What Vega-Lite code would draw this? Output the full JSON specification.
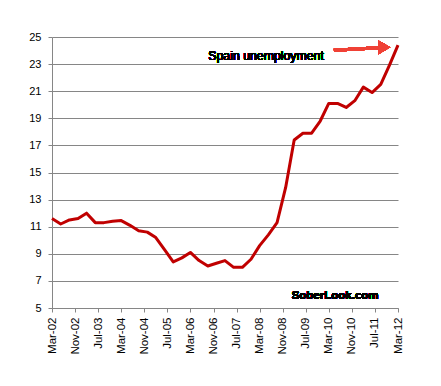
{
  "$schema": "https://vega.github.io/schema/vega-lite/v6.json",
  "autosize": "none",
  "width": 346,
  "height": 271,
  "padding": {"left": 52, "top": 37, "right": 43, "bottom": 78},
  "background": "white",
  "config": {
    "view": {"stroke": null},
    "font": "Liberation Sans"
  },
  "data": {
    "values": [
      {"date": "2002-03-01T00:00:00", "rate": 11.6},
      {"date": "2002-06-01T00:00:00", "rate": 11.2},
      {"date": "2002-09-01T00:00:00", "rate": 11.5},
      {"date": "2002-12-01T00:00:00", "rate": 11.6},
      {"date": "2003-03-01T00:00:00", "rate": 12.0},
      {"date": "2003-06-01T00:00:00", "rate": 11.3},
      {"date": "2003-09-01T00:00:00", "rate": 11.3},
      {"date": "2003-12-01T00:00:00", "rate": 11.4},
      {"date": "2004-03-01T00:00:00", "rate": 11.45},
      {"date": "2004-06-01T00:00:00", "rate": 11.1},
      {"date": "2004-09-01T00:00:00", "rate": 10.7},
      {"date": "2004-12-01T00:00:00", "rate": 10.6},
      {"date": "2005-03-01T00:00:00", "rate": 10.2},
      {"date": "2005-06-01T00:00:00", "rate": 9.3},
      {"date": "2005-09-01T00:00:00", "rate": 8.4},
      {"date": "2005-12-01T00:00:00", "rate": 8.7},
      {"date": "2006-03-01T00:00:00", "rate": 9.1},
      {"date": "2006-06-01T00:00:00", "rate": 8.5},
      {"date": "2006-09-01T00:00:00", "rate": 8.1},
      {"date": "2006-12-01T00:00:00", "rate": 8.3},
      {"date": "2007-03-01T00:00:00", "rate": 8.5},
      {"date": "2007-06-01T00:00:00", "rate": 8.0},
      {"date": "2007-09-01T00:00:00", "rate": 8.0},
      {"date": "2007-12-01T00:00:00", "rate": 8.6},
      {"date": "2008-03-01T00:00:00", "rate": 9.6},
      {"date": "2008-06-01T00:00:00", "rate": 10.4},
      {"date": "2008-09-01T00:00:00", "rate": 11.3},
      {"date": "2008-12-01T00:00:00", "rate": 13.9},
      {"date": "2009-03-01T00:00:00", "rate": 17.4},
      {"date": "2009-06-01T00:00:00", "rate": 17.9},
      {"date": "2009-09-01T00:00:00", "rate": 17.9},
      {"date": "2009-12-01T00:00:00", "rate": 18.8},
      {"date": "2010-03-01T00:00:00", "rate": 20.1},
      {"date": "2010-06-01T00:00:00", "rate": 20.1},
      {"date": "2010-09-01T00:00:00", "rate": 19.8},
      {"date": "2010-12-01T00:00:00", "rate": 20.3},
      {"date": "2011-03-01T00:00:00", "rate": 21.3},
      {"date": "2011-06-01T00:00:00", "rate": 20.9},
      {"date": "2011-09-01T00:00:00", "rate": 21.5},
      {"date": "2011-12-01T00:00:00", "rate": 22.9},
      {"date": "2012-03-01T00:00:00", "rate": 24.4}
    ]
  },
  "layer": [
    {
      "mark": {"type": "line", "color": "#c00000", "strokeWidth": 3, "strokeJoin": "round"},
      "encoding": {
        "x": {
          "field": "date",
          "type": "temporal",
          "title": null,
          "scale": {"domain": [{"year": 2002, "month": 3, "date": 1}, {"year": 2012, "month": 3, "date": 1}]},
          "axis": {
            "values": [
              {"year": 2002, "month": 3, "date": 1},
              {"year": 2002, "month": 11, "date": 1},
              {"year": 2003, "month": 7, "date": 1},
              {"year": 2004, "month": 3, "date": 1},
              {"year": 2004, "month": 11, "date": 1},
              {"year": 2005, "month": 7, "date": 1},
              {"year": 2006, "month": 3, "date": 1},
              {"year": 2006, "month": 11, "date": 1},
              {"year": 2007, "month": 7, "date": 1},
              {"year": 2008, "month": 3, "date": 1},
              {"year": 2008, "month": 11, "date": 1},
              {"year": 2009, "month": 7, "date": 1},
              {"year": 2010, "month": 3, "date": 1},
              {"year": 2010, "month": 11, "date": 1},
              {"year": 2011, "month": 7, "date": 1},
              {"year": 2012, "month": 3, "date": 1}
            ],
            "tickCount": 50,
            "format": "%b-%y",
            "labelAngle": -90,
            "labelAlign": "right",
            "labelBaseline": "middle",
            "labelFont": "Liberation Sans",
            "labelFontSize": 11.5,
            "labelColor": "#000000",
            "labelPadding": 5,
            "labelOverlap": false,
            "labelFlush": false,
            "grid": false,
            "tickSize": 4,
            "tickColor": "#868686",
            "domainColor": "#868686"
          }
        },
        "y": {
          "field": "rate",
          "type": "quantitative",
          "title": null,
          "scale": {"domain": [5, 25], "nice": false, "zero": false},
          "axis": {
            "values": [5, 7, 9, 11, 13, 15, 17, 19, 21, 23, 25],
            "tickCount": 50,
            "format": "d",
            "labelOverlap": false,
            "labelFont": "Liberation Sans",
            "labelFontSize": 11,
            "labelColor": "#000000",
            "labelPadding": 7,
            "grid": true,
            "gridColor": "#868686",
            "tickSize": 4,
            "tickColor": "#868686",
            "domainColor": "#868686"
          }
        }
      }
    },
    {
      "mark": {"type": "text", "text": "Spain unemployment", "font": "Liberation Sans", "fontSize": 12.3, "color": "#000000", "align": "center", "baseline": "middle"},
      "encoding": {
        "x": {"datum": {"year": 2008, "month": 5, "date": 8}, "type": "temporal"},
        "y": {"datum": 23.6, "type": "quantitative"}
      }
    },
    {
      "mark": {"type": "text", "text": "SoberLook.com", "font": "Liberation Sans", "fontSize": 11.5, "fontWeight": "bold", "color": "#000000", "align": "center", "baseline": "middle"},
      "encoding": {
        "x": {"datum": {"year": 2010, "month": 5, "date": 7}, "type": "temporal"},
        "y": {"datum": 5.88, "type": "quantitative"}
      }
    },
    {
      "mark": {"type": "rule", "color": "#ef4136", "strokeWidth": 3},
      "encoding": {
        "x": {"datum": {"year": 2010, "month": 4, "date": 25}, "type": "temporal"},
        "x2": {"datum": {"year": 2011, "month": 8, "date": 10}},
        "y": {"datum": 24.02, "type": "quantitative"},
        "y2": {"datum": 24.2}
      }
    },
    {
      "mark": {"type": "point", "shape": "triangle-right", "filled": true, "color": "#ef4136", "size": 190, "opacity": 1},
      "encoding": {
        "x": {"datum": {"year": 2011, "month": 10, "date": 8}, "type": "temporal"},
        "y": {"datum": 24.24, "type": "quantitative"}
      }
    }
  ]
}
